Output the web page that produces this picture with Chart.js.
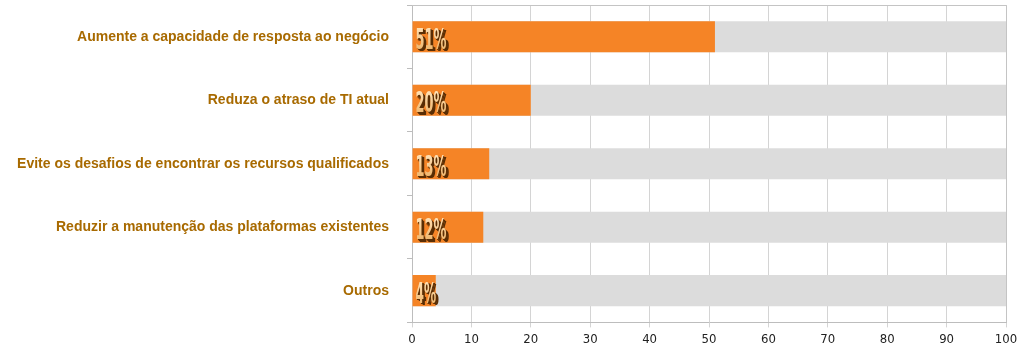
<!DOCTYPE html>
<html><head><meta charset="utf-8">
<script src="https://cdn.jsdelivr.net/npm/chart.js@4/dist/chart.umd.min.js"></script>
<style>html,body{margin:0;padding:0;background:#fff}#wrap{width:1024px;height:351px}</style>
</head><body><div id="wrap"><canvas id="c" width="1024" height="351"></canvas></div>
<script>
const categories = ["Aumente a capacidade de resposta ao negócio","Reduza o atraso de TI atual","Evite os desafios de encontrar os recursos qualificados","Reduzir a manutenção das plataformas existentes","Outros"];
const percentValues = [51, 20, 13, 12, 4];
const fullScale = [100, 100, 100, 100, 100];
const xTicks = [0,10,20,30,40,50,60,70,80,90,100];

const labelPlugin = {
  id: 'pctLabels',
  afterDatasetsDraw(chart) {
    const ctx = chart.ctx;
    const meta = chart.getDatasetMeta(1);
    meta.data.forEach((bar, i) => {
      const txt = percentValues[i] + '%';
      ctx.save();
      ctx.font = 'bold 29px "Liberation Sans Narrow", "DejaVu Sans Condensed", sans-serif';
      ctx.textBaseline = 'alphabetic';
      ctx.textAlign = 'left';
      const w = ctx.measureText(txt).width;
      const target = txt.length * 10.3;
      const sx = target / w;
      const x = bar.base + 3, y = bar.y + 12;
      ctx.translate(x, y);
      ctx.scale(sx, 1);
      ctx.fillStyle = '#5a2e05';
      for (let k = 3; k >= 1; k--) ctx.fillText(txt, k * 0.9 / sx, k * 0.9);
      const g = ctx.createLinearGradient(0, -22, 0, 0);
      g.addColorStop(0, '#ffe2b8');
      g.addColorStop(1, '#f0b870');
      ctx.fillStyle = g;
      ctx.fillText(txt, 0, 0);
      ctx.restore();
    });
  }
};

new Chart(document.getElementById('c'), {
  type: 'bar',
  data: {
    labels: categories,
    datasets: [
      { data: fullScale, backgroundColor: '#dcdcdc', grouped: false, order: 2, barPercentage: 0.98, categoryPercentage: 0.5 },
      { data: percentValues, backgroundColor: '#f58426', grouped: false, order: 1, barPercentage: 0.98, categoryPercentage: 0.5 }
    ]
  },
  options: {
    indexAxis: 'y',
    responsive: false,
    animation: false,
    layout: { padding: { top: 5, right: 18, left: 0, bottom: 0 } },
    plugins: { legend: { display: false }, tooltip: { enabled: false } },
    scales: {
      x: {
        min: 0, max: 100,
        afterBuildTicks(s) { s.ticks = xTicks.map(v => ({ value: v })); },
        grid: { color: '#d4d4d4', lineWidth: 1, tickLength: 5 },
        border: { color: '#bdbdbd' },
        ticks: { color: '#222', font: { family: '"Liberation Sans Narrow", "DejaVu Sans Condensed", sans-serif', size: 13 }, padding: 4 }
      },
      y: {
        offset: true,
        grid: { offset: true, drawOnChartArea: false, color: '#bdbdbd', tickLength: 5 },
        border: { color: '#bdbdbd' },
        ticks: { color: '#a86a00', font: { family: '"Liberation Sans", Arial, sans-serif', size: 14, weight: 'bold' }, padding: 18 },
        afterFit(s) { s.paddingTop = 0; s.paddingBottom = 0; s.width = 412; }
      }
    }
  },
  plugins: [labelPlugin, {
    id: 'frame',
    afterDraw(chart) {
      const { ctx, chartArea: a } = chart;
      ctx.save();
      ctx.strokeStyle = '#c4c4c4'; ctx.lineWidth = 1;
      ctx.beginPath();
      ctx.moveTo(a.left, a.top + 0.5); ctx.lineTo(a.right + 0.5, a.top + 0.5); ctx.lineTo(a.right + 0.5, a.bottom);
      ctx.stroke();
      ctx.restore();
    }
  }]
});
</script></body></html>
